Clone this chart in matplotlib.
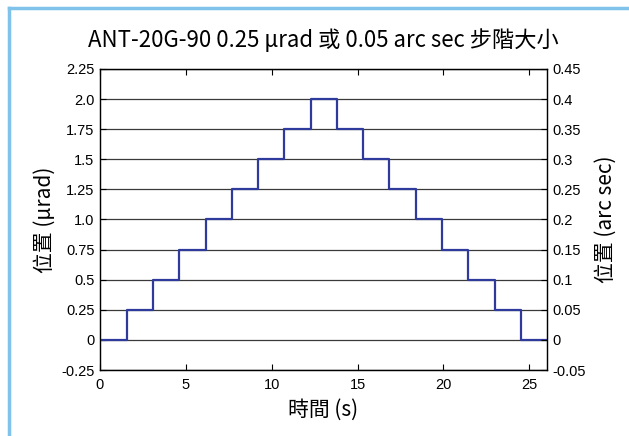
import matplotlib
matplotlib.use("Agg")
import matplotlib.pyplot as plt
from matplotlib.lines import Line2D

# Data
step_times = [0, 1.55, 3.07, 4.60, 6.15, 7.69, 9.20, 10.73, 12.27,
              13.78, 15.31, 16.85, 18.38, 19.91, 21.43, 22.98, 24.51, 26.0]
levels = [0, 0.25, 0.5, 0.75, 1.0, 1.25, 1.5, 1.75, 2.0,
          1.75, 1.5, 1.25, 1.0, 0.75, 0.5, 0.25, 0, 0]
left_ticks = [-0.25, 0, 0.25, 0.5, 0.75, 1.0, 1.25, 1.5, 1.75, 2.0, 2.25]
left_labels = ["-0.25", "0", "0.25", "0.5", "0.75", "1.0", "1.25", "1.5", "1.75", "2.0", "2.25"]
right_labels = ["-0.05", "0", "0.05", "0.1", "0.15", "0.2", "0.25", "0.3", "0.35", "0.4", "0.45"]
x_ticks = [0, 5, 10, 15, 20, 25]

title = "ANT-20G-90 0.25 μrad 或 0.05 arc sec 步階大小"
ylabel_left = "位置 (μrad)"
ylabel_right = "位置 (arc sec)"
xlabel = "時間 (s)"

tick_fam = ["Liberation Sans", "Noto Sans CJK TC"]
cjk_fam = ["Noto Sans CJK TC", "DejaVu Sans"]

fig = plt.figure(figsize=(6.29, 4.36), dpi=100)
W, H = 629, 436
# Border (top and left)
fig.add_artist(Line2D([8.5 / W, 8.5 / W], [0, 1 - 8.5 / H], transform=fig.transFigure,
                      color="#7fc3ea", lw=2.5))
fig.add_artist(Line2D([8.5 / W, 1], [1 - 8.5 / H, 1 - 8.5 / H], transform=fig.transFigure,
                      color="#7fc3ea", lw=2.5))

ax = fig.add_axes([100 / W, 1 - 370 / H, 446.5 / W, 301 / H])
ax.step(step_times, levels, where="post", color="#2e3a9c", lw=1.6, zorder=3)
ax.set_xlim(0, 26)
ax.set_ylim(-0.25, 2.25)
ax.set_yticks(left_ticks)
ax.set_yticklabels(left_labels, family=tick_fam, fontsize=10.5)
ax.set_xticks(x_ticks)
ax.set_xticklabels([str(t) for t in x_ticks], family=tick_fam, fontsize=10.5)
ax.tick_params(axis="x", direction="in", top=True, length=4, width=0.8, pad=6)
ax.tick_params(axis="y", direction="in", length=4, width=0.8, pad=4)
ax.yaxis.grid(True, color="#3a3a3a", lw=0.9)
ax.set_axisbelow(True)
for s in ax.spines.values():
    s.set_linewidth(1.0)
    s.set_color("#222222")

ax2 = ax.twinx()
ax2.set_ylim(-0.05, 0.45)
ax2.set_yticks([v * 0.2 for v in left_ticks])
ax2.set_yticklabels(right_labels, family=tick_fam, fontsize=10.5)
ax2.tick_params(axis="y", direction="in", length=4, width=0.8, pad=4)

ax.set_title(title, family=cjk_fam, fontsize=16, pad=16)
ax.set_xlabel(xlabel, family=cjk_fam, fontsize=15, labelpad=5, fontweight="medium")
ax.set_ylabel(ylabel_left, family=cjk_fam, fontsize=15, labelpad=4, fontweight="medium")
ax2.set_ylabel(ylabel_right, family=cjk_fam, fontsize=15, labelpad=7, rotation=90,
               fontweight="medium")

fig.savefig("out.png", dpi=100)
